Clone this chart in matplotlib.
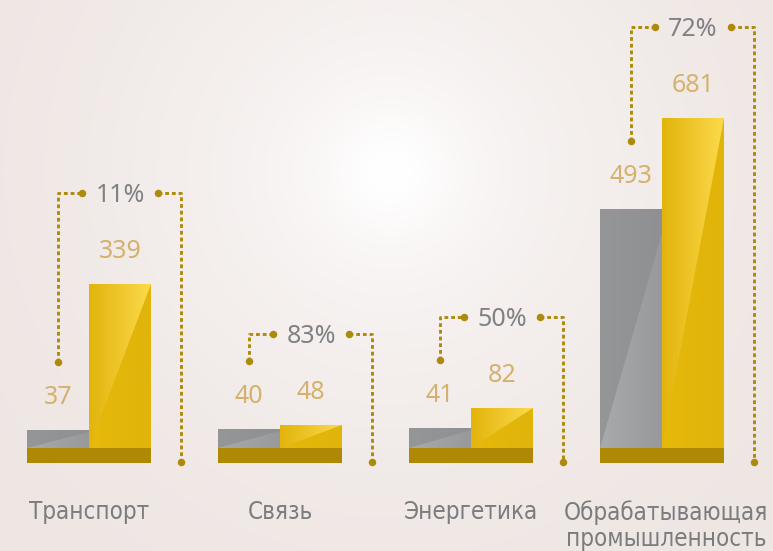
import numpy as np
import matplotlib
matplotlib.use('Agg')
import matplotlib.pyplot as plt
from matplotlib.patches import Polygon
from matplotlib.colors import to_rgb
from matplotlib import font_manager as fm

# ---------------- data ----------------
categories = ['Транспорт', 'Связь', 'Энергетика', 'Обрабатывающая\nпромышленность']
prev_values = [37, 40, 41, 493]
curr_values = [339, 48, 82, 681]
growth_labels = ['11%', '83%', '50%', '72%']

# ---------------- layout ----------------
W, H = 773, 551
PX = 0.485          # pixels per value unit
BASE_Y = 448        # pixel row (from top) of the bar baseline
fig = plt.figure(figsize=(W / 100, H / 100), dpi=100)
ax = fig.add_axes([0, 0, 1, 1])
ylim = (-(H - BASE_Y) / PX, BASE_Y / PX)


def px(p):
    return p / PX


# pick a narrow font if one is installed
narrow_name, narrow_stretch = None, 'normal'
pref = ['Liberation Sans Narrow', 'DejaVu Sans', 'Roboto', 'Open Sans', 'Noto Sans']
cands = []
for fe in fm.fontManager.ttflist:
    st = fe.stretch
    is_narrow = ('Narrow' in fe.name or 'Condensed' in fe.name or
                 st in ('condensed', 'semi-condensed', 'extra-condensed') or
                 (isinstance(st, (int, float)) and st < 500))
    if is_narrow and fe.style == 'normal' and str(fe.weight) in ('400', 'normal', 'regular'):
        cands.append(fe)
for p in pref:
    for fe in cands:
        if fe.name.startswith(p):
            narrow_name, narrow_stretch = fe.name, fe.stretch
            break
    if narrow_name:
        break
if narrow_name is None:
    narrow_name = 'Noto Sans'

# background radial glow
xs = np.linspace(0, W, 500)
ys = np.linspace(0, H, 360)
X, Y = np.meshgrid(xs, ys)
r = np.hypot(X - 390, Y - 172)
f = 0.62 * np.exp(-(r / 270) ** 2) + 0.38 * np.exp(-(r / 70) ** 2)
f = np.clip(f, 0, 1)
outer = np.array(to_rgb('#eee6e3'))
bg = outer + (1 - outer) * f[..., None]
ax.imshow(bg, extent=(0, W, ylim[0], ylim[1]), origin='upper', aspect='auto',
          zorder=0, interpolation='bilinear')

step = 191
bw = 62
gray_x = [27 + i * step for i in range(len(categories))]
gold_x = [g + bw for g in gray_x]

gray_bars = ax.bar(gray_x, prev_values, width=bw, align='edge', color='#939496',
                   linewidth=0, zorder=2)
gold_bars = ax.bar(gold_x, curr_values, width=bw, align='edge', color='#e2b60a',
                   linewidth=0, zorder=2)
ax.bar(gold_x, [px(15)] * len(categories), bottom=-px(15), width=2 * bw,
       align='center', color='#af8805', linewidth=0, zorder=2)


def hgrad(c1, c2, n=64):
    a = np.array(to_rgb(c1))
    b = np.array(to_rgb(c2))
    t = np.linspace(0, 1, n)[None, :, None]
    return a + (b - a) * t


def shade(rect, full, tri, tri_pts):
    x, w, h = rect.get_x(), rect.get_width(), rect.get_height()
    im = ax.imshow(hgrad(*full), extent=(x, x + w, 0, h), aspect='auto',
                   zorder=2.1, interpolation='bilinear')
    im.set_clip_path(rect)
    poly = Polygon([(x + a * w, b * h) for a, b in tri_pts], closed=True,
                   transform=ax.transData)
    im2 = ax.imshow(hgrad(*tri), extent=(x, x + w, 0, h), aspect='auto',
                    zorder=2.2, interpolation='bilinear')
    im2.set_clip_path(poly)


for rect in gray_bars:
    shade(rect, ('#959698', '#8f9092'), ('#a9aaac', '#98999b'),
          [(0, 0), (1, 0), (1, 0.9)])
for rect in gold_bars:
    shade(rect, ('#e2b40c', '#fcda4c'), ('#e6b90a', '#e0b40a'),
          [(0, 0), (1, 0), (1, 1)])

num_font = dict(family=['Noto Sans', 'DejaVu Sans'], fontsize=18)
val_color = '#d4b16d'
for rect, v in zip(gray_bars, prev_values):
    ax.text(rect.get_x() + bw / 2, v + px(26), str(v), ha='center',
            va='baseline', color=val_color, zorder=4, **num_font)
for rect, v in zip(gold_bars, curr_values):
    ax.text(rect.get_x() + bw / 2, v + px(26), str(v), ha='center',
            va='baseline', color=val_color, zorder=4, **num_font)

line_c = '#ae8a0b'
dash = (0, (1.3, 1.0))
for i in range(len(categories)):
    gx = gray_x[i] + bw / 2
    cx = gold_x[i] + bw / 2
    rx = gold_x[i] + bw + 30
    top = curr_values[i] + px(91)
    ldot = prev_values[i] + px(68)
    bot = -px(14)
    ax.plot([gx, gx, cx - 38], [ldot, top, top], color=line_c, lw=2.1,
            linestyle=dash, dash_capstyle='butt', zorder=3)
    ax.plot([cx + 38, rx, rx], [top, top, bot], color=line_c, lw=2.1,
            linestyle=dash, dash_capstyle='butt', zorder=3)
    ax.plot([gx, cx - 38, cx + 38, rx], [ldot, top, top, bot], 'o', ms=5.4,
            color=line_c, mew=0, zorder=3)
    ax.text(cx, top - px(9), growth_labels[i], ha='center', va='baseline',
            color='#808184', zorder=4, **num_font)

# category labels, size fitted so the longest line is ~204 px wide
cat_font = dict(family=[narrow_name, 'DejaVu Sans'], fontstretch=narrow_stretch)
ax.set_xlim(0, W)
ax.set_ylim(*ylim)
ax.axis('off')
renderer = fig.canvas.get_renderer()
probe = ax.text(0, 0, 'Обрабатывающая', fontsize=20, **cat_font)
wpx = probe.get_window_extent(renderer).width
probe.remove()
cat_size = min(21, 20 * 204 / wpx)
for i, c in enumerate(categories):
    ax.text(gold_x[i] + (4 if '\n' in c else 0), -px(500 - 448), c, ha='center',
            va='top', color='#7b7c7e', linespacing=1.12, zorder=4,
            fontsize=cat_size, **cat_font)

fig.savefig('out.png', dpi=100)
